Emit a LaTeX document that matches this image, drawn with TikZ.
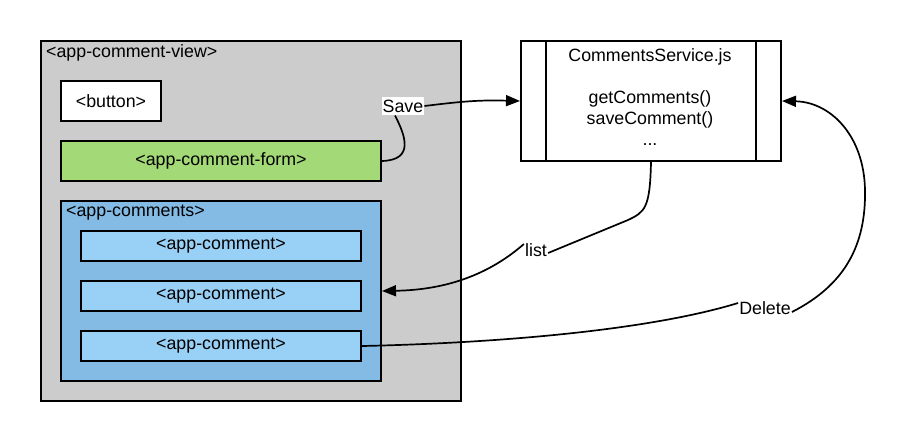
\documentclass[tikz,border=0pt]{standalone}
\usepackage{fontspec}
\setmainfont{Liberation Sans}
\usetikzlibrary{arrows.meta}
\definecolor{viewgray}{HTML}{CCCCCC}
\definecolor{formgreen}{HTML}{A3D977}
\definecolor{listblue}{HTML}{83BBE5}
\definecolor{itemblue}{HTML}{99D0F5}
\begin{document}
\begin{tikzpicture}[x=1pt,y=-1pt,
  every node/.style={font=\fontsize{17.8}{21}\selectfont},
  boxnode/.style={draw=black, line width=2pt, rectangle, inner sep=0pt, anchor=north west},
  conn/.style={draw=black, line width=1.7pt},
  tip/.style={-{Triangle[length=14pt,width=11pt]}},
  lbl/.style={fill=white, inner xsep=1pt, inner ysep=3pt}]
\useasboundingbox (0,0) rectangle (904,440);
% container
\node[boxnode, fill=viewgray, minimum width=420pt, minimum height=360pt] (view) at (40,40) {};
\node[anchor=west, inner sep=0pt] (viewlbl) at (46,53) {<app-comment-view>};
\node[boxnode, fill=white, minimum width=100pt, minimum height=40pt] (button) at (60,80) {};
\node (buttonlbl) at (button.center) {<button>};
\node[boxnode, fill=formgreen, minimum width=320pt, minimum height=40pt] (form) at (60,140) {};
\node (formlbl) at (form.center) {<app-comment-form>};
\node[boxnode, fill=listblue, minimum width=320pt, minimum height=180pt] (coms) at (60,200) {};
\node[anchor=west, inner sep=0pt] (comslbl) at (66,213) {<app-comments>};
\node[boxnode, fill=itemblue, minimum width=280pt, minimum height=30pt] (c1) at (80,230) {};
\node (c1lbl) at (c1.center) {<app-comment>};
\node[boxnode, fill=itemblue, minimum width=280pt, minimum height=30pt] (c2) at (80,280) {};
\node (c2lbl) at (c2.center) {<app-comment>};
\node[boxnode, fill=itemblue, minimum width=280pt, minimum height=30pt] (c3) at (80,330) {};
\node (c3lbl) at (c3.center) {<app-comment>};
% service
\node[boxnode, fill=white, minimum width=260pt, minimum height=120pt] (svc) at (520,40) {};
\draw[line width=2pt] ([xshift=26pt]svc.north west) -- ([xshift=26pt]svc.south west);
\draw[line width=2pt] ([xshift=-26pt]svc.north east) -- ([xshift=-26pt]svc.south east);
\node[align=center, inner sep=0pt] (svctext) at (650,97.5) {CommentsService.js\\[0pt]\strut\\getComments()\\saveComment()\\...};
% labels
\node[lbl] (save) at (403,106) {Save};
\node[lbl] (list) at (536,250) {list};
\node[lbl] (del) at (765,308) {Delete};
\coordinate (lst1) at (628,220);
% connectors
\draw[conn] (form.east) .. controls (415,160) and (405,135) .. ([xshift=-8pt]save.south);
\draw[conn, tip] (save.east) .. controls (465,101) and (480,100) .. (svc.west);
\draw[conn] (svc.south) .. controls (650,208) and (645,212) .. (lst1) -- ([yshift=-3pt]list.east);
\draw[conn, tip] ([yshift=6pt]list.west) .. controls (485,278) and (440,290) .. (coms.east);
\draw[conn] (c3.east) .. controls (500,343) and (650,330) .. ([yshift=5pt]del.west);
\draw[conn, tip] ([yshift=-4pt]del.east) .. controls (845,285) and (866,245) .. (865,190) .. controls (864,135) and (830,102) .. (svc.east);
\end{tikzpicture}
\end{document}
